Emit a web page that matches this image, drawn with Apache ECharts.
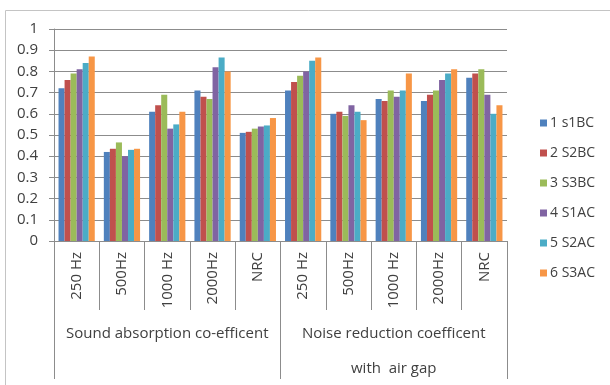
<!DOCTYPE html>
<html>
<head>
<meta charset="utf-8">
<script src="https://cdn.jsdelivr.net/npm/echarts@6/dist/echarts.min.js"></script>
<style>
  html, body { margin: 0; padding: 0; background: #fff; }
  #chart { width: 610px; height: 385px; }
</style>
</head>
<body>
<div id="chart"></div>
<script>
// Frequency bands, repeated for each measurement group
const categories = ['250 Hz', '500Hz', '1000 Hz', '2000Hz', 'NRC',
                    '250 Hz', '500Hz', '1000 Hz', '2000Hz', 'NRC'];
const groups = ['Sound absorption co-efficent', 'Noise reduction coefficent\nwith  air gap'];
const seriesNames = ['1 s1BC', '2 S2BC', '3 S3BC', '4 S1AC', '5 S2AC', '6 S3AC'];

// Coefficients per sample (first five: sound absorption, last five: with air gap)
const s1BC = [0.72, 0.42, 0.61, 0.71, 0.51, 0.71, 0.60, 0.67, 0.66, 0.77];
const s2BC = [0.76, 0.435, 0.64, 0.68, 0.515, 0.75, 0.61, 0.66, 0.69, 0.79];
const s3BC = [0.79, 0.465, 0.69, 0.67, 0.53, 0.78, 0.59, 0.71, 0.71, 0.81];
const s1AC = [0.81, 0.40, 0.53, 0.82, 0.54, 0.80, 0.64, 0.68, 0.76, 0.69];
const s2AC = [0.84, 0.43, 0.55, 0.865, 0.545, 0.85, 0.61, 0.71, 0.79, 0.60];
const s3AC = [0.87, 0.435, 0.61, 0.80, 0.58, 0.865, 0.57, 0.79, 0.81, 0.64];

const yTicks = [0, 0.1, 0.2, 0.3, 0.4, 0.5, 0.6, 0.7, 0.8, 0.9, 1];

const colors = ['#4F81BD', '#C0504D', '#9BBB59', '#8064A2', '#4BACC6', '#F79646'];
const allValues = [s1BC, s2BC, s3BC, s1AC, s2AC, s3AC];

const font = '"Open Sans", "Noto Sans", sans-serif';
const lineGray = '#8c8c8c';
const textColor = '#404040';

const chart = echarts.init(document.getElementById('chart'), null, { renderer: 'canvas' });

chart.setOption({
  animation: false,
  color: colors,
  textStyle: { fontFamily: font },
  graphic: [{
    type: 'rect',
    shape: { x: 5.5, y: 10.5, width: 700, height: 500 },
    style: { fill: 'none', stroke: '#c4c4c4', lineWidth: 1 },
    silent: true,
    z: -10
  }],
  grid: {
    left: 54, right: 103, top: 29, bottom: 144,
    containLabel: false,
    outerBoundsMode: 'none'
  },
  legend: {
    orient: 'vertical',
    left: 535,
    top: 109,
    itemWidth: 7,
    itemHeight: 7,
    itemGap: 12,
    icon: 'rect',
    data: seriesNames,
    textStyle: { fontFamily: font, fontSize: 14, color: textColor, lineHeight: 18, padding: [0, 0, 0, -2] }
  },
  xAxis: [{
    type: 'category',
    data: categories,
    axisLine: { show: true, lineStyle: { color: lineGray, width: 1 } },
    axisTick: { show: true, interval: 0, length: 69, lineStyle: { color: lineGray } },
    axisLabel: {
      interval: 0, rotate: 90, margin: 11,
      fontFamily: font, fontSize: 15, color: textColor
    },
    splitLine: { show: false }
  }, {
    type: 'category',
    data: groups,
    position: 'bottom',
    axisLine: { show: false },
    axisTick: { show: true, interval: 0, length: 138, lineStyle: { color: lineGray } },
    axisLabel: {
      interval: 0, margin: 75,
      fontFamily: font, fontSize: 15, color: textColor, lineHeight: 35
    },
    splitLine: { show: false }
  }],
  yAxis: {
    type: 'value',
    min: 0,
    max: 1,
    interval: 0.1,
    axisLine: { show: true, lineStyle: { color: lineGray } },
    axisTick: { show: true, length: 5, lineStyle: { color: lineGray } },
    axisLabel: {
      margin: 16, fontFamily: font, fontSize: 15, color: textColor,
      formatter: v => {
        const t = yTicks.find(k => Math.abs(k - v) < 1e-9);
        return t === undefined ? '' : String(t);
      }
    },
    splitLine: { show: true, lineStyle: { color: lineGray, width: 1 } }
  },
  series: seriesNames.map((name, i) => ({
    name,
    type: 'bar',
    xAxisIndex: 0,
    data: allValues[i],
    barGap: '0%',
    barCategoryGap: '20%',
    itemStyle: { color: colors[i] }
  }))
});
</script>
</body>
</html>
